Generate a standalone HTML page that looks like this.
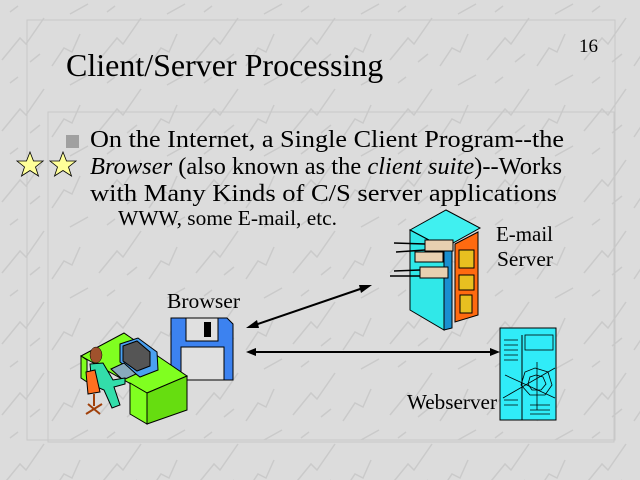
<!DOCTYPE html>
<html><head><meta charset="utf-8"><style>
html,body{margin:0;padding:0;background:#dcdcdc;}
svg{display:block;}
text{font-family:"Liberation Serif",serif;fill:#000;}
</style></head><body>
<svg width="640" height="480" viewBox="0 0 640 480" xmlns="http://www.w3.org/2000/svg">
<defs>
<pattern id="m" width="97" height="71" patternUnits="userSpaceOnUse">
<rect width="97" height="71" fill="#dcdcdc"/>
<path d="M2 60 L20 38 L26 44 L44 18 M52 66 L64 48 L72 52 L80 34 M10 12 L18 6 M30 62 L40 54 M70 14 L88 4" stroke="#cacaca" stroke-width="1.5" fill="none"/>
</pattern>
</defs>
<rect width="640" height="480" fill="url(#m)"/>
<rect x="27" y="20" width="588" height="420" fill="none" stroke="#c8c8c8"/>
<rect x="48" y="112" width="566" height="330" fill="none" stroke="#c8c8c8"/>
<text x="66" y="76" font-size="32">Client/Server Processing</text>
<text x="579" y="52" font-size="19">16</text>
<rect x="66" y="135" width="13" height="13" fill="#a0a0a0"/>
<polygon points="30,152 33.5,161 43,161 35.5,167 38.5,176 30,170.5 21.5,176 24.5,167 17,161 26.5,161" fill="#ffff99" stroke="#000" stroke-width="0.8"/>
<polygon points="63,152 66.5,161 76,161 68.5,167 71.5,176 63,170.5 54.5,176 57.5,167 50,161 59.5,161" fill="#ffff99" stroke="#000" stroke-width="0.8"/>
<text x="90" y="147" font-size="24" textLength="474" lengthAdjust="spacingAndGlyphs">On the Internet, a Single Client Program--the</text>
<text x="90" y="174" font-size="24" textLength="472" lengthAdjust="spacingAndGlyphs"><tspan font-style="italic">Browser</tspan> (also known as the <tspan font-style="italic">client suite</tspan>)--Works</text>
<text x="90" y="201" font-size="24" textLength="467" lengthAdjust="spacingAndGlyphs">with Many Kinds of C/S server applications</text>
<text x="118" y="225" font-size="21" textLength="219" lengthAdjust="spacingAndGlyphs">WWW, some E-mail, etc.</text>
<text x="167" y="308" font-size="21" textLength="73" lengthAdjust="spacingAndGlyphs">Browser</text>
<text x="496" y="241" font-size="21" textLength="57" lengthAdjust="spacingAndGlyphs">E-mail</text>
<text x="497" y="266" font-size="21" textLength="56" lengthAdjust="spacingAndGlyphs">Server</text>
<text x="407" y="409" font-size="21" textLength="90" lengthAdjust="spacingAndGlyphs">Webserver</text>
<!-- floppy -->
<path d="M171 318 L227 318 L233 324 L233 380 L171 380 Z" fill="#3c82f0" stroke="#000"/>
<rect x="186" y="318" width="32" height="23" fill="#e0e0e0" stroke="#000"/>
<rect x="204" y="322" width="7" height="15" fill="#000"/>
<rect x="181" y="347" width="43" height="33" fill="#e0e0e0" stroke="#000"/>
<rect x="173" y="373" width="4" height="3" fill="#000"/>
<!-- desk -->
<polygon points="81,356 124,333 187,376 147,393" fill="#80ff20" stroke="#000"/>
<polygon points="147,393 187,376 187,410 147,424" fill="#66dd10" stroke="#000"/>
<polygon points="130,383 147,393 147,424 130,414" fill="#80ff20" stroke="#000"/>
<polygon points="81,356 87,360 87,382 81,378" fill="#80ff20" stroke="#000"/>
<polygon points="120,344 138,338 157,352 158,370 140,377 120,362" fill="#4aa0f0" stroke="#000"/>
<polygon points="123,346 137,341 150,352 150,366 137,371 123,361" fill="#555" stroke="#000"/>
<polygon points="111,369 124,363 136,374 123,380" fill="#8ab" stroke="#000"/>
<ellipse cx="96" cy="355" rx="6" ry="8" fill="#a0522d" stroke="#000" stroke-width="0.5"/>
<path d="M90 364 L103 363 L113 380 L125 378 L125 384 L114 387 L120 405 L112 408 L104 390 L92 385 Z" fill="#33ddaa" stroke="#000"/>
<path d="M86 372 L95 370 L100 392 L88 394 Z" fill="#ff7020" stroke="#000"/>
<path d="M94 394 L94 406 M86 414 L102 404 M88 404 L100 414" stroke="#a0400a" stroke-width="2"/>
<!-- arrows -->
<g stroke="#000" stroke-width="2" fill="#000">
<line x1="252" y1="326" x2="366" y2="287"/>
<line x1="252" y1="352" x2="494" y2="352"/>
</g>
<polygon points="246,328 257,320 259,328" fill="#000"/>
<polygon points="372,285 361,293 359,285" fill="#000"/>
<polygon points="246,352 256,348 256,356" fill="#000"/>
<polygon points="500,352 490,348 490,356" fill="#000"/>
<!-- email server -->
<polygon points="410,230 446,210 480,228 444,248" fill="#40f0f0" stroke="#000"/>
<polygon points="410,230 444,248 444,330 410,310" fill="#30e8e8" stroke="#000"/>
<polygon points="444,248 452,244 452,328 444,330" fill="#1a8fd0" stroke="#000"/>
<polygon points="455,244 478,232 478,315 455,322" fill="#ff6a10" stroke="#000"/>
<rect x="459" y="250" width="15" height="18" fill="#e8c020" stroke="#000"/>
<rect x="459" y="275" width="15" height="15" fill="#e8c020" stroke="#000"/>
<rect x="460" y="295" width="12" height="18" fill="#e8c020" stroke="#000"/>
<rect x="425" y="240" width="28" height="11" fill="#e8d0b0" stroke="#000"/>
<rect x="415" y="252" width="28" height="10" fill="#e8d0b0" stroke="#000"/>
<rect x="420" y="267" width="28" height="11" fill="#e8d0b0" stroke="#000"/>
<g stroke="#000" stroke-width="1.5"><line x1="394" y1="243" x2="425" y2="244"/><line x1="396" y1="252" x2="425" y2="250"/><line x1="394" y1="271" x2="420" y2="270"/><line x1="390" y1="276" x2="420" y2="276"/></g>
<!-- webserver -->
<rect x="500" y="328" width="56" height="92" fill="#30ecf8" stroke="#000"/>
<line x1="522" y1="335" x2="522" y2="420" stroke="#000"/>
<g stroke="#000" stroke-width="0.8" fill="none">
<rect x="525" y="335" width="28" height="15"/>
<polygon points="535,368 548,372 552,385 545,395 530,395 521,385 525,372"/>
<polygon points="536,375 543,377 546,384 541,390 532,390 528,384 530,377"/>
<line x1="505" y1="375" x2="555" y2="398"/><line x1="503" y1="398" x2="555" y2="368"/><line x1="537" y1="362" x2="537" y2="410"/>
<path d="M504 340 H518 M504 345 H518 M504 350 H518 M504 355 H518 M504 360 H518 M504 400 H518 M504 405 H518 M530 405 H550 M530 410 H550 M530 414 H550"/>
</g>
</svg>
</body></html>
